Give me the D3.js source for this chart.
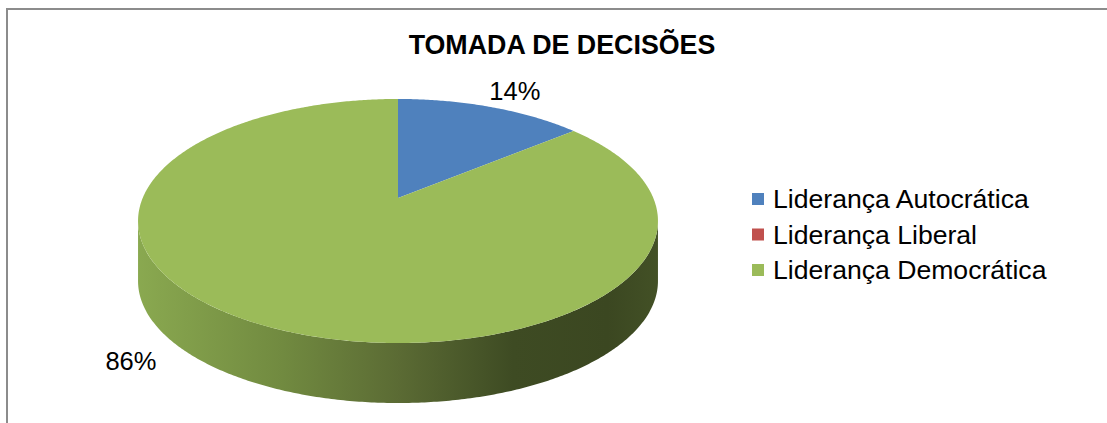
<!DOCTYPE html>
<html>
<head>
<meta charset="utf-8">
<script src="https://cdn.jsdelivr.net/npm/d3@7"></script>
<style>
  html, body { margin: 0; padding: 0; background: #ffffff; }
  svg { display: block; font-family: "Liberation Sans", Arial, sans-serif; }
</style>
</head>
<body>
<svg id="chart" width="1107" height="423"></svg>
<script>
// Chart data
const title = 'TOMADA DE DECISÕES';
const categories = ['Liderança Autocrática', 'Liderança Liberal', 'Liderança Democrática'];
const values = [14, 0, 86];
const colors = ['#4f81bd', '#c0504d', '#9bbb59'];

// 3D pie geometry (projection of a tilted disk with a little perspective)
const geo = { cx: 398, cy: 198, A: 255.3, B: 117.7, k: 0.1885, depth: 60 };

// label nudges from the slice's rim midpoint
const labelOffset = [[24, -7], [0, 0], [-136, 44]];

const svg = d3.select('#chart');

// frame (only top and left edges show in the crop)
svg.append('line').attr('x1', 7).attr('x2', 1107).attr('y1', 9).attr('y2', 9)
  .style('stroke', '#8c8c8c').style('stroke-width', '2px');
svg.append('line').attr('x1', 7).attr('x2', 7).attr('y1', 8).attr('y2', 423)
  .style('stroke', '#8c8c8c').style('stroke-width', '2px');

// title
svg.append('text')
  .attr('x', 562).attr('y', 54)
  .attr('text-anchor', 'middle')
  .style('font-weight', 'bold').style('font-size', '26.8px').style('fill', '#000')
  .text(title);

/**
 * Project angle (clockwise from top) and radius onto screen
 */
function proj(theta, r, dz) {
  const u = r * Math.sin(theta), v = r * Math.cos(theta);
  const d = 1 + geo.k * v;
  return [geo.cx + geo.A * u / d, geo.cy - geo.B * v / d + (dz || 0)];
}

function arcPoints(a0, a1, dz) {
  const n = Math.max(2, Math.ceil(Math.abs(a1 - a0) / 0.01));
  return d3.range(n + 1).map(i => proj(a0 + (a1 - a0) * i / n, 1, dz));
}

const pie = d3.pie().sort(null).value(d => d)(values);

// side gradient
const defs = svg.append('defs');
const grad = defs.append('linearGradient')
  .attr('id', 'sideGrad')
  .attr('gradientUnits', 'userSpaceOnUse')
  .attr('x1', geo.cx - 262).attr('x2', geo.cx + 262).attr('y1', 0).attr('y2', 0);
[[0, '#8aa950'], [0.28, '#718a40'], [0.5, '#5b6b34'], [0.72, '#3e4b23'], [0.9, '#3b4721'], [1, '#435126']]
  .forEach(s => grad.append('stop').attr('offset', s[0]).attr('stop-color', s[1]));

const line = d3.line();

// front side walls
const frontA = Math.acos(-geo.k), frontB = 2 * Math.PI - frontA;
const sides = svg.append('g');
pie.forEach((p, i) => {
  const a = Math.max(p.startAngle, frontA), b = Math.min(p.endAngle, frontB);
  if (b <= a) return;
  const top = arcPoints(a, b, 0);
  const bot = arcPoints(b, a, geo.depth);
  sides.append('path')
    .attr('d', line(top.concat(bot)) + 'Z')
    .style('fill', i === 2 ? 'url(#sideGrad)' : d3.color(colors[i]).darker(1.2));
});

// top faces
const tops = svg.append('g');
pie.forEach((p, i) => {
  if (p.endAngle - p.startAngle <= 0) return;
  const pts = [[geo.cx, geo.cy]].concat(arcPoints(p.startAngle, p.endAngle, 0));
  tops.append('path')
    .attr('d', line(pts) + 'Z')
    .style('fill', colors[i]);
});

// percentage labels
const total = d3.sum(values);
pie.forEach((p, i) => {
  if (values[i] === 0) return;
  const mid = (p.startAngle + p.endAngle) / 2;
  const pt = proj(mid, 1, 0);
  svg.append('text')
    .attr('x', pt[0] + labelOffset[i][0])
    .attr('y', pt[1] + labelOffset[i][1])
    .attr('text-anchor', 'middle')
    .style('font-size', '25.5px').style('fill', '#000')
    .text(Math.round(values[i] / total * 100) + '%');
});

// legend
const legend = svg.append('g').attr('transform', 'translate(752,199)');
categories.forEach((c, i) => {
  const g = legend.append('g').attr('transform', `translate(0,${i * 35.5})`);
  g.append('rect').attr('x', 0).attr('y', -6).attr('width', 12).attr('height', 12)
    .style('fill', colors[i]);
  g.append('text').attr('x', 21).attr('y', 9)
    .style('font-size', '26.6px').style('fill', '#000')
    .text(c);
});
</script>
</body>
</html>
